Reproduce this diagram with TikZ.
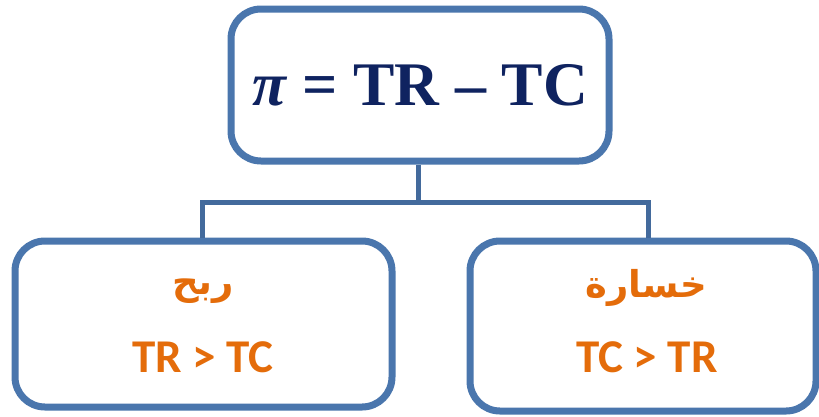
\documentclass[tikz,border=0pt]{standalone}
\usepackage{fontspec}
\setmainfont{Liberation Serif}
\newfontfamily\latinsans{Carlito}
\newfontfamily\arabicfont[Script=Arabic]{DejaVu Sans}
\TeXXeTstate=1
\usepackage{tikz}
\usetikzlibrary{positioning,shadows}
\definecolor{rammeblaa}{HTML}{4A76AD}
\definecolor{marine}{HTML}{0F2360}
\definecolor{oransje}{HTML}{E46C0A}
\tikzset{
    %Define style for boxes
    ramme/.style={
           rectangle,
           rounded corners=30pt,
           draw=rammeblaa, line width=7pt,
           fill=white,
           drop shadow={opacity=0.18, shadow xshift=1pt, shadow yshift=-3pt},
           inner sep=0pt},
    % Define connector style
    gren/.style={
           draw=rammeblaa!90!black,
           line width=5pt},
    % texts in the lower boxes
    arabisk/.style={
           text=oransje,
           font=\arabicfont\bfseries\fontsize{37}{44}\selectfont},
    latin/.style={
           text=oransje, anchor=base,
           font=\latinsans\bfseries\fontsize{47}{52}\selectfont}
}

\begin{document}
\begin{tikzpicture}[x=1pt, y=-1pt]
 \useasboundingbox (0,0) rectangle (819,416);
 %nodes
 \node[ramme, minimum width=378pt, minimum height=152pt] (formel) at (420,85)
   {\textcolor{marine}{\fontsize{62}{70}\selectfont\bfseries\textit{π} = TR – TC}};
 \node[ramme, minimum width=377pt, minimum height=166pt] (gevinst) at (203.5,324) {};
 \node[ramme, minimum width=346pt, minimum height=170pt] (tap) at (643,326) {};
 % labels inside the lower boxes
 \node[arabisk] (gevinstnavn) at (203,291) {\beginR ربح\endR};
 \node[latin] (gevinstvilkaar) at (203,372) {TR > TC};
 \node[arabisk] (tapnavn) at (646,288) {\beginR خسارة\endR};
 \node[latin] (tapvilkaar) at (647,372) {TC > TR};
 % connectors
 \coordinate (knute) at (418,202);
 \draw[gren] ([xshift=-2pt]formel.south) -- (knute);
 \draw[gren] (knute) -| ([xshift=-1.5pt]gevinst.north);
 \draw[gren] (knute) -| ([xshift=5pt]tap.north);
\end{tikzpicture}
\end{document}
